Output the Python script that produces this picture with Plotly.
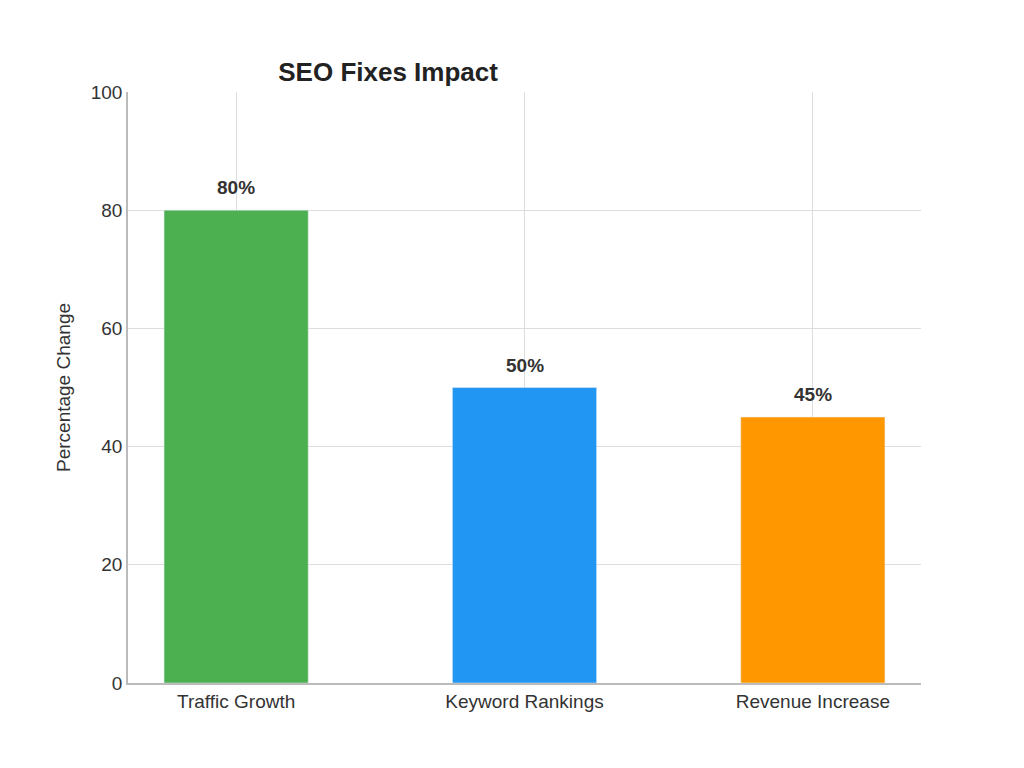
import plotly.graph_objects as go

categories = ["Traffic Growth", "Keyword Rankings", "Revenue Increase"]
values = [80, 50, 45]
labels = ["80%", "50%", "45%"]
colors = ["#4CAF50", "#2196F3", "#FF9800"]
yticks = [0, 20, 40, 60, 80, 100]

fig = go.Figure(go.Bar(
    x=categories, y=values, marker_color=colors, width=0.5,
))
for c, v, t in zip(categories, values, labels):
    fig.add_annotation(x=c, y=v, text="<b>" + t + "</b>", showarrow=False, yanchor="bottom",
                       yshift=10, font=dict(family="Liberation Sans, Arial", size=19, color="#333333"))
fig.update_layout(
    width=1024, height=768, plot_bgcolor="white", paper_bgcolor="white",
    margin=dict(l=120, r=111, t=84, b=93),
    font=dict(family="Liberation Sans, Arial", color="#333333"),
    title=dict(text="<b>SEO Fixes Impact</b>", x=0.328, xref="paper", xanchor="center",
               y=0.917, yref="container", yanchor="middle", font=dict(size=26, color="#222222")),
    showlegend=False,
)
fig.update_xaxes(range=[-0.375, 2.375], showgrid=True, gridcolor="#dddddd", showline=True,
                 linecolor="#bbbbbb", linewidth=1.5, ticks="", tickfont=dict(size=19))
fig.update_yaxes(range=[0, 100], tickvals=yticks, showgrid=True, gridcolor="#dddddd",
                 showline=True, linecolor="#bbbbbb", linewidth=1.5, ticks="", zeroline=False,
                 tickfont=dict(size=19), title=dict(text="Percentage Change", font=dict(size=19)))
fig.write_html("out.html")
